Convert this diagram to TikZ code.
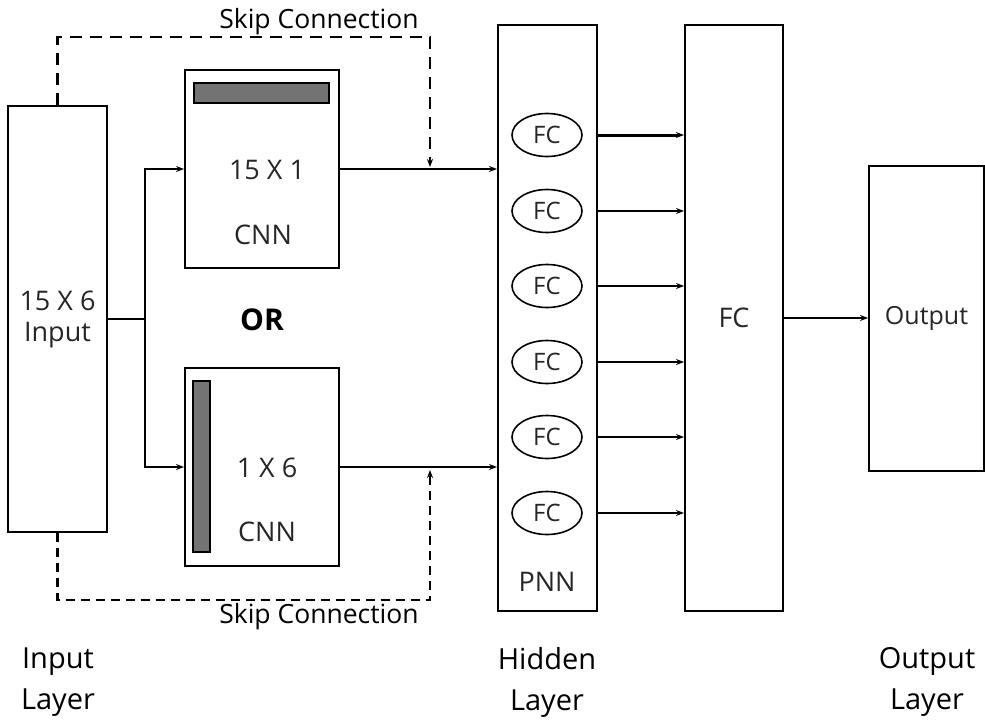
\documentclass[tikz,border=0pt]{standalone}
\usepackage{fontspec}
\setmainfont{Open Sans}
\usetikzlibrary{arrows.meta,shapes.geometric,positioning}

\begin{document}
\begin{tikzpicture}[x=1pt,y=-1pt,>={Stealth[length=8pt,width=6pt]},line width=1.6pt,
    box/.style={draw,rectangle,line width=2pt,inner sep=0pt},
    bar/.style={draw,rectangle,fill=black!55,line width=1.6pt,inner sep=0pt},
    fcnode/.style={draw,ellipse,line width=1.6pt,minimum width=70pt,minimum height=43pt,inner sep=0pt,font=\fontsize{24}{28}\selectfont,text=black!85},
    txt/.style={font=\fontsize{27}{31}\selectfont,text=black!85,inner sep=0pt,align=center},
    layer/.style={font=\fontsize{29}{41}\selectfont,align=center,inner sep=0pt},
    skip/.style={dash pattern=on 12pt off 8pt,line width=2.6pt}]
    \useasboundingbox (0,0) rectangle (985,720);
    % input and the two cnn boxes
    \node[box,txt,minimum width=99pt,minimum height=426pt] (input) at (57.5,319) {15 X 6\\Input};
    \node[box,minimum width=154pt,minimum height=198pt] (cnnA) at (262,169) {};
    \node[bar,minimum width=135pt,minimum height=20pt] (barA) at (261.5,93) {};
    \node[txt] (kernelA) at (267,170) {15 X 1};
    \node[txt] (nameA) at (263,235) {CNN};
    \node[box,minimum width=154pt,minimum height=198pt] (cnnB) at (262,467) {};
    \node[bar,minimum width=17pt,minimum height=171pt] (barB) at (201.5,466.5) {};
    \node[txt] (kernelB) at (267,468) {1 X 6};
    \node[txt] (nameB) at (267,532) {CNN};
    \node[font=\bfseries\fontsize{30}{34}\selectfont,inner sep=0pt] (or) at (262,320) {OR};
    % hidden layer
    \node[box,minimum width=99pt,minimum height=586pt] (pnn) at (547.5,318) {};
    \foreach \i/\y in {1/135,2/211,3/286,4/362,5/437,6/513}
        \node[fcnode] (fc\i) at (547,\y) {FC};
    \node[txt] (pnnname) at (547,582) {PNN};
    \node[box,txt,minimum width=98pt,minimum height=586pt] (fcbig) at (734,318) {FC};
    \node[box,txt,font=\fontsize{25}{29}\selectfont,minimum width=115pt,minimum height=305pt] (out) at (926.5,318.5) {Output};
    % layer names
    \node[layer] (inlayer) at (58,682) {Input\\Layer};
    \node[layer] (hidlayer) at (547,682) {Hidden\\Layer};
    \node[layer] (outlayer) at (927,682) {Output\\Layer};
    \node[font=\fontsize{26.5}{30}\selectfont,inner sep=0pt] (skiptop) at (319,22) {Skip Connection};
    \node[font=\fontsize{26.5}{30}\selectfont,inner sep=0pt] (skipbot) at (319,617) {Skip Connection};

    \coordinate (split) at (145,319);
    \coordinate (skipA) at (430,169);
    \coordinate (skipB) at (430,466);
    \draw[line width=2.6pt] (input.east) -- (split);
    \draw[->,line width=2.6pt] (split) |- (cnnA.west);
    \draw[->,line width=2.6pt] (split) |- (cnnB.west);
    \draw[->] (cnnA.east) -- (cnnA.east -| pnn.west);
    \draw[->,line width=2.4pt] (cnnB.east) -- (cnnB.east -| pnn.west);
    \draw[skip,->,shorten >=2pt] (input.north) -- ++(0,-68) -| (skipA);
    \draw[skip,dash pattern=on 9pt off 6pt,->,shorten >=4pt] (input.south) -- ++(0,67) -| (skipB);
    \foreach \i/\w in {1/3pt,2/2.8pt,3/1.8pt,4/2.2pt,5/1.8pt,6/2.8pt}
        \draw[->,line width=\w] (fc\i.east -| pnn.east) -- (fc\i.east -| fcbig.west);
    \draw[->] (fcbig.east) -- (fcbig.east -| out.west);
\end{tikzpicture}
\end{document}
